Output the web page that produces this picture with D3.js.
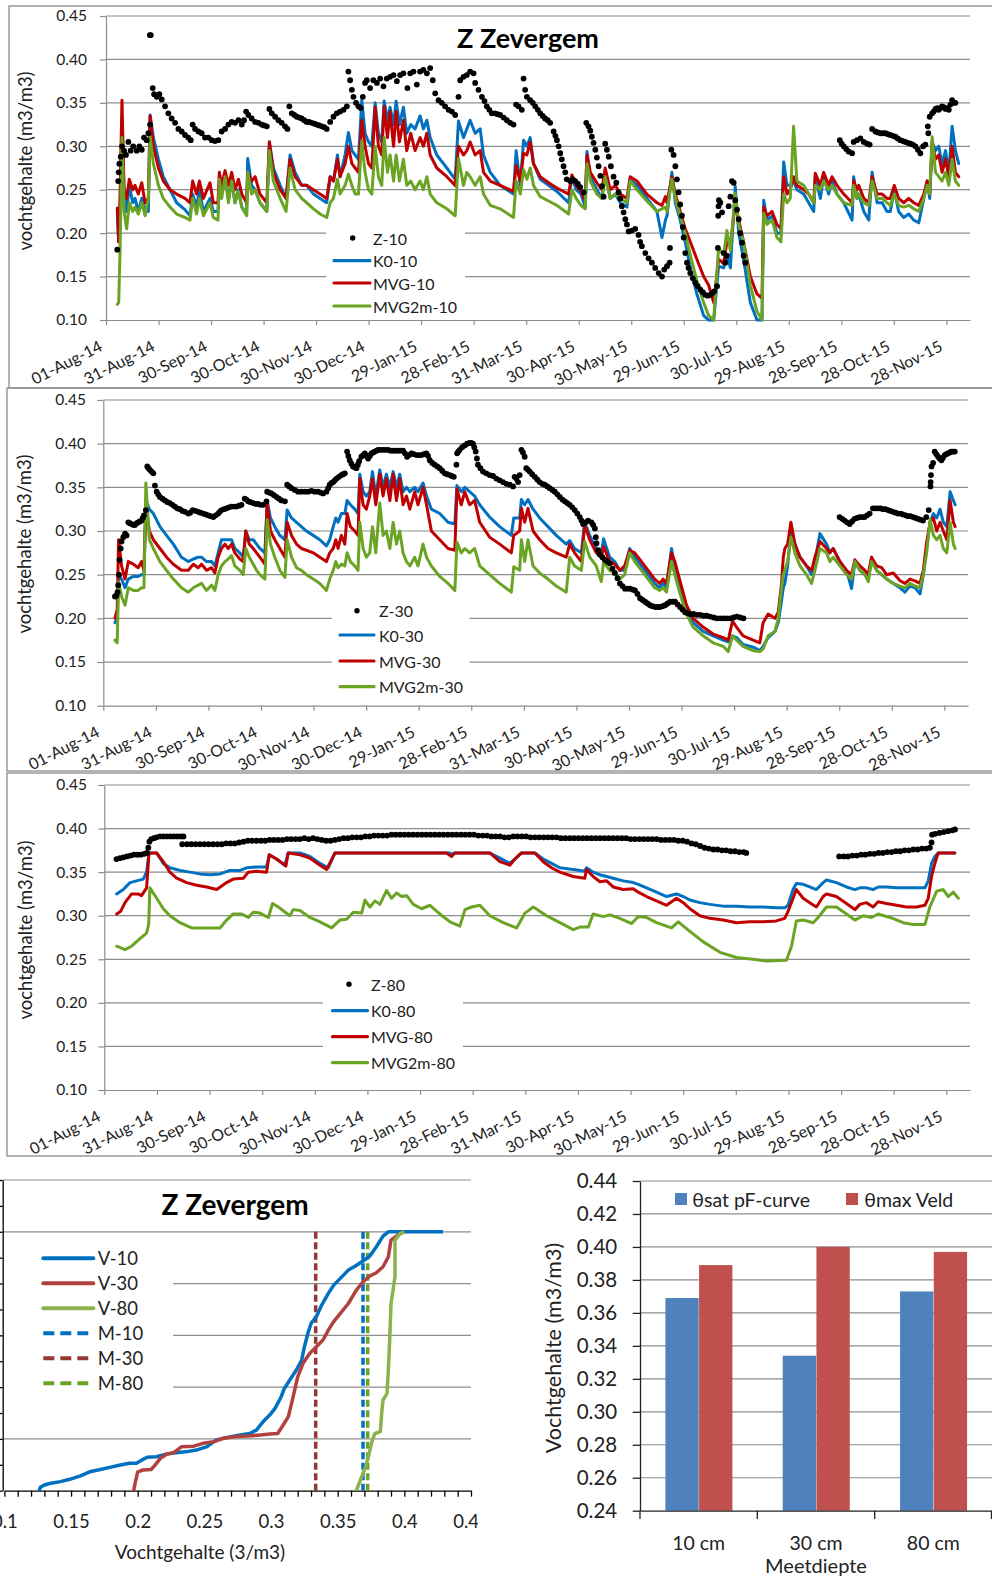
<!DOCTYPE html>
<html><head><meta charset="utf-8">
<script src="https://cdn.jsdelivr.net/npm/d3@7"></script>
<style>body{margin:0;background:#fff}svg{display:block}</style>
</head><body>
<svg id="c" width="992" height="1577"></svg>
<script>
// ================= DATA =================
// time axis: days since 01-Aug-2014; ticks every 30.25 days
const tickStepDays = 30.25, tickCount = 17;
const yTicksTS = [0.10,0.15,0.20,0.25,0.30,0.35,0.40,0.45];
const seriesNames10 = ["Z-10","K0-10","MVG-10","MVG2m-10"];
const seriesNames30 = ["Z-30","K0-30","MVG-30","MVG2m-30"];
const seriesNames80 = ["Z-80","K0-80","MVG-80","MVG2m-80"];

// Panel 10 cm rows: [day, K0-10, MVG-10, MVG2m-10]
const p10Rows = [
[6.5,.225,.229,.118],[7.3,.19,.19,.12],[8.1,.23,.24,.18],[9.2,.335,.353,.31],[10.4,.245,.25,.225],[11.9,.225,.24,.205],[13.4,.255,.262,.235],[15.4,.235,.25,.225],[16.7,.24,.255,.23],[18.6,.225,.245,.222],
[20.6,.24,.258,.235],[22.5,.225,.235,.22],[24.4,.225,.24,.24],[25.4,.336,.335,.311],[27.3,.31,.30,.28],[30.2,.285,.275,.255],[33,.265,.26,.24],[36.9,.25,.25,.23],[40.7,.235,.245,.222],[45.5,.227,.24,.218],
[48.4,.22,.235,.215],[49.9,.245,.26,.24],[52.2,.23,.245,.222],[53.8,.25,.26,.24],[56.1,.225,.24,.22],[59.9,.24,.258,.235],[61.8,.225,.235,.218],[64.5,.225,.235,.215],[65.3,.265,.27,.262],[66.6,.245,.255,.24],
[68.6,.265,.272,.265],[70.5,.24,.255,.235],[72.4,.26,.27,.26],[74.3,.235,.25,.235],[76.3,.25,.262,.248],[78.2,.23,.245,.23],[81,.222,.235,.22],[81.6,.286,.27,.27],[83.9,.255,.26,.245],[85.9,.25,.265,.25],
[88.7,.235,.245,.235],[92.6,.225,.235,.225],[94.1,.305,.305,.295],[96.4,.275,.27,.26],[100.3,.255,.25,.24],[103.7,.24,.24,.225],[106,.29,.285,.275],[108.9,.27,.265,.25],[112.7,.255,.255,.24],[115.6,.255,.255,.235],
[119.5,.245,.25,.228],[123.3,.24,.245,.222],[127.1,.235,.24,.218],[129.1,.265,.265,.235],[131,.26,.26,.24],[133.3,.29,.285,.262],[134.8,.265,.265,.245],[137.7,.29,.28,.255],[139.6,.316,.30,.268],[141.6,.295,.28,.255],
[143.5,.29,.275,.245],[145.4,.285,.27,.245],[147.3,.353,.33,.306],[149.2,.315,.30,.27],[151.2,.305,.28,.25],[153.1,.30,.275,.245],[155,.35,.345,.30],[156.9,.315,.30,.265],[158.8,.305,.29,.255],[160.2,.352,.346,.31],
[162.1,.33,.31,.27],[163.6,.345,.34,.29],[165.6,.325,.30,.26],[167.1,.352,.34,.29],[169,.325,.305,.26],[171.3,.345,.33,.285],[173.2,.315,.295,.255],[175.5,.325,.315,.26],[178,.32,.295,.25],[180.9,.335,.31,.26],
[182.8,.32,.30,.25],[184.8,.33,.315,.265],[186.7,.31,.29,.245],[190.5,.29,.275,.235],[196.3,.275,.265,.228],[201.1,.262,.255,.22],[203,.329,.30,.286],[205.9,.31,.29,.255],[207.8,.32,.295,.27],[209.7,.33,.305,.265],
[212.6,.315,.29,.255],[215.5,.32,.295,.265],[217.4,.29,.27,.245],[221.3,.27,.26,.232],[227,.255,.255,.228],[234.7,.245,.248,.218],[236.2,.295,.278,.26],[238.6,.255,.26,.245],[240.5,.307,.292,.273],[242.4,.30,.29,.262],
[244.3,.31,.305,.275],[246.2,.28,.28,.255],[250.1,.262,.265,.242],[254.9,.255,.258,.237],[259.7,.248,.252,.232],[266.4,.235,.245,.222],[268.3,.265,.267,.25],[270.8,.25,.255,.24],[273.5,.245,.248,.232],[276,.23,.238,.228],
[277,.294,.29,.28],[278.9,.265,.27,.26],[282.7,.25,.258,.245],[285.6,.24,.25,.24],[287.5,.27,.275,.265],[290.4,.24,.25,.24],[293.3,.245,.255,.245],[296.2,.235,.245,.24],[300,.23,.24,.235],[301.9,.262,.265,.26],
[305.8,.255,.26,.25],[311.5,.24,.245,.237],[317.3,.225,.235,.225],[320.2,.195,.232,.228],[322.2,.215,.242,.23],[323.1,.22,.235,.225],[325.9,.27,.265,.262],[327.9,.235,.245,.24],[330.7,.215,.225,.22],[333.6,.19,.205,.20],
[336.5,.16,.19,.175],[340.3,.13,.17,.145],[344.2,.105,.15,.12],[347.1,.10,.14,.105],[350,.10,.12,.10],[352.8,.162,.17,.183],[355.7,.16,.165,.175],[357.6,.175,.19,.203],[359.6,.16,.185,.18],[362.4,.254,.235,.246],
[364.4,.20,.215,.21],[367.2,.17,.19,.19],[371.1,.12,.15,.14],[374.9,.10,.13,.11],[377.8,.10,.125,.10],[378.8,.238,.23,.223],[380.7,.215,.22,.21],[383.6,.22,.225,.215],[386.4,.20,.21,.195],[388.7,.20,.205,.19],
[390.3,.282,.265,.245],[392.2,.255,.245,.235],[394.1,.255,.25,.24],[396,.26,.265,.323],[397.9,.25,.255,.26],[401.8,.245,.25,.255],[404.7,.235,.245,.245],[407.6,.225,.235,.235],[408.5,.265,.269,.255],[411.4,.24,.255,.25],
[413.3,.265,.27,.26],[416.2,.245,.255,.25],[418.1,.26,.265,.255],[421,.245,.255,.245],[424.9,.235,.245,.235],[429.7,.215,.235,.232],[430.6,.265,.26,.255],[432.5,.24,.25,.24],[433.5,.245,.255,.245],[436.4,.225,.24,.235],
[439.3,.215,.235,.232],[441.2,.27,.265,.26],[444.1,.235,.245,.24],[447,.235,.245,.24],[449.8,.225,.24,.235],[451.7,.225,.24,.232],[454,.25,.255,.245],[456.5,.225,.24,.232],[459.4,.218,.235,.23],[462.3,.222,.24,.232],
[465.2,.215,.235,.228],[468.1,.212,.232,.225],[471,.24,.245,.24],[472.9,.26,.26,.255],[474.4,.24,.245,.245],[475.8,.305,.305,.311],[477.7,.295,.285,.27],[479.6,.30,.29,.265],[481.5,.28,.27,.26],[483.5,.295,.285,.27],
[485.4,.27,.265,.255],[487.3,.323,.30,.285],[489.2,.295,.27,.26],[491.1,.28,.265,.255]
];
// Z-10 observations [day, value]
const z10 = [
[6.5,.181],[7,.26],[7.3,.27],[7.7,.28],[8.5,.288],[9.2,.30],[10.4,.295],[11.5,.29],[12.9,.305],[14.2,.295],[15.7,.30],[17.7,.295],[19.2,.30],[20.6,.296],[21.9,.31],[23.4,.307],[24.4,.315],[25.4,.325],[25.2,.428],[25.8,.428],
[26.9,.367],[27.7,.36],[29.2,.357],[30.7,.36],[32.1,.354],[34,.346],[35.9,.338],[37.8,.332],[39.8,.327],[41.7,.32],[43.6,.317],[45.5,.313],[47.4,.31],[48.8,.307],[49.9,.325],[51.3,.32],[53.2,.317],[55.1,.315],[57,.31],[59,.31],
[60.9,.307],[62.8,.306],[64.7,.307],[66.6,.317],[68.6,.32],[70.5,.325],[72.4,.328],[74.3,.327],[76.3,.33],[78.2,.325],[79.5,.33],[80.7,.34],[82,.336],[83.9,.332],[85.9,.328],[87.8,.327],[89.7,.325],[91,.324],[92.6,.323],[94.1,.343],
[95.5,.338],[97.4,.334],[99.3,.33],[101.2,.327],[103.1,.323],[104.5,.32],[105.6,.346],[107,.338],[108.5,.336],[109.9,.334],[111.3,.333],[112.7,.332],[114.2,.33],[115.6,.328],[117,.328],[118.5,.327],[120,.326],[121.4,.325],[122.8,.324],[124.3,.323],
[125.7,.322],[127.1,.32],[129.1,.328],[131,.334],[132.9,.338],[134.8,.34],[136.8,.342],[138.7,.346],[139.6,.386],[140.6,.376],[141.6,.365],[142.5,.357],[144,.35],[145.4,.346],[146.7,.344],[147.9,.357],[149.2,.373],[150.2,.376],[152.1,.367],[154,.376],
[156,.373],[157.9,.378],[159.8,.369],[161.7,.378],[163.6,.38],[165.6,.382],[167.5,.375],[169.4,.382],[171.3,.384],[173.6,.367],[175.2,.384],[177.1,.386],[179,.371],[180.9,.386],[182.8,.388],[184.8,.384],[186.7,.39],[188.2,.376],[189.6,.361],[191.5,.353],
[193.4,.35],[195.3,.346],[197.3,.342],[199.2,.34],[201.1,.336],[203,.357],[204,.376],[205.9,.38],[207.8,.382],[209.7,.386],[211.7,.384],[212.6,.373],[214.5,.365],[216.5,.357],[218,.352],[219.3,.346],[220.8,.342],[222.2,.338],[224,.338],[225.5,.337],
[227,.336],[229,.333],[230.9,.33],[232.8,.327],[234.7,.325],[236.2,.348],[237.6,.346],[239.5,.342],[240.5,.378],[241.4,.365],[242.4,.357],[244.3,.353],[245.8,.35],[247.2,.346],[248.7,.342],[250.1,.338],[251.5,.335],[252.9,.332],[254.4,.33],[255.8,.327],
[257.8,.317],[258.8,.312],[259.7,.307],[260.7,.30],[261.6,.292],[262.5,.285],[263.5,.277],[264.5,.27],[265.4,.262],[267.4,.26],[268.8,.262],[270.2,.26],[271.7,.257],[273.1,.253],[275.1,.247],[276.6,.327],[277.9,.323],[278.9,.318],[279.8,.311],[280.8,.304],
[281.8,.296],[282.7,.287],[283.7,.277],[284.7,.266],[285.6,.254],[286.6,.242],[287.5,.303],[288.5,.296],[289.5,.288],[290.8,.277],[292.3,.265],[293.9,.258],[295.2,.247],[296.2,.24],[297.1,.231],[298.1,.224],[299.1,.216],[300,.21],[301,.202],[302.9,.203],
[304.8,.205],[306.7,.198],[307.6,.19],[308.6,.185],[310.6,.177],[312.5,.171],[314.4,.166],[316.3,.16],[318.3,.154],[320.2,.15],[321.5,.158],[323.1,.162],[324.6,.166],[324.8,.183],[325.6,.296],[326.9,.29],[327.9,.277],[328.8,.262],[329.8,.247],[330.7,.233],
[331.7,.22],[332.2,.207],[332.7,.195],[333.6,.177],[334.6,.166],[335.5,.16],[336.5,.154],[338,.148],[339.4,.143],[340.8,.139],[342.3,.135],[343.7,.132],[345.1,.129],[346.6,.128],[348,.129],[349.2,.131],[350.3,.133],[351.9,.139],[352.4,.183],[352.6,.22],
[352.8,.231],[353,.238],[353.8,.235],[354.8,.224],[355.7,.177],[356.7,.166],[357.6,.174],[358.6,.231],[359.6,.242],[360.5,.26],[361.5,.258],[362.4,.238],[363.4,.227],[364.4,.216],[365.3,.20],[366.3,.189],[367.2,.174],[368.2,.166],
[422.6,.307],[423.7,.303],[424.9,.30],[426.3,.297],[427.7,.294],[429.7,.292],[430.6,.305],[432.5,.307],[434.5,.309],[436.4,.305],[438.3,.303],[439.8,.302],[441.2,.32],[443.1,.317],[444.5,.316],[446,.315],[447.5,.315],[448.9,.315],[450.3,.314],[451.7,.313],
[453.2,.312],[454.6,.311],[456,.309],[457.5,.307],[459,.306],[460.4,.305],[461.8,.304],[463.3,.303],[464.7,.302],[466.2,.30],[467.6,.296],[469,.292],[470.6,.30],[471.9,.302],[473.3,.323],[473.6,.315],[474.4,.334],[475.8,.338],[476.7,.34],[477.7,.343],
[478.7,.344],[479.6,.342],[480.5,.344],[481.5,.346],[482.5,.345],[483.5,.343],[484.5,.344],[485.4,.342],[486.3,.348],[487.3,.353],[488.2,.35],[489.2,.35]
];

// Panel 30 cm rows: [day, K0-30, MVG-30, MVG2m-30]
const p30Rows = [
[6.7,.195,.20,.175],[8,.20,.21,.172],[8.8,.25,.29,.242],[10.5,.245,.26,.225],[12.5,.235,.245,.215],[14.4,.245,.265,.235],[17.3,.248,.262,.232],[20.1,.248,.258,.232],[22,.25,.265,.235],[23.4,.25,.255,.235],
[24.5,.335,.33,.355],[26.5,.325,.30,.29],[28.8,.32,.29,.28],[32.6,.305,.28,.265],[36.4,.295,.27,.255],[40.3,.285,.262,.245],[45,.27,.255,.235],[48.9,.265,.255,.23],[51.8,.268,.262,.235],[54.6,.27,.258,.238],
[56.5,.27,.262,.24],[59.4,.265,.255,.232],[62.3,.265,.258,.238],[64.2,.26,.252,.232],[66.1,.275,.27,.25],[68,.29,.28,.26],[70,.29,.285,.265],[71.9,.29,.28,.268],[73.8,.29,.285,.272],[75.7,.28,.275,.26],
[78.6,.275,.268,.255],[80.5,.27,.265,.25],[82,.30,.30,.28],[84,.29,.285,.27],[86.3,.29,.28,.262],[88.2,.285,.275,.255],[90.1,.28,.27,.25],[93,.275,.262,.245],[94.3,.335,.333,.313],[96.2,.315,.30,.285],
[98.7,.305,.29,.27],[101.6,.295,.28,.255],[104.5,.29,.27,.247],[105.8,.324,.31,.29],[108.3,.315,.295,.27],[111.2,.31,.285,.258],[114,.305,.28,.255],[116.9,.30,.278,.25],[120.8,.295,.275,.245],[124.6,.29,.27,.24],
[128.4,.283,.265,.232],[130.3,.29,.275,.245],[132.3,.305,.28,.255],[133.8,.315,.29,.265],[135.1,.31,.28,.258],[137,.32,.295,.262],[139,.32,.285,.26],[140.3,.335,.32,.275],[142.2,.33,.305,.265],[144.7,.325,.30,.26],
[146.6,.32,.295,.255],[147.6,.365,.36,.31],[149.5,.345,.33,.28],[151.4,.34,.325,.27],[153.3,.345,.34,.275],[154.9,.368,.36,.305],[156.8,.34,.33,.275],[159.1,.37,.365,.332],[161,.35,.34,.295],[162.9,.365,.36,.30],
[164.9,.35,.335,.28],[166.8,.368,.365,.31],[168.7,.35,.335,.285],[170.6,.365,.36,.30],[172.5,.345,.33,.275],[174.5,.35,.34,.265],[176.4,.345,.325,.26],[179.2,.35,.345,.27],[181.1,.345,.33,.26],[184,.355,.35,.285],
[186,.34,.33,.27],[188.8,.325,.30,.26],[193.6,.32,.29,.248],[198.4,.31,.28,.24],[202.3,.308,.278,.232],[203.5,.352,.348,.287],[206,.345,.33,.275],[208,.35,.345,.28],[210.8,.345,.33,.275],[213.7,.34,.335,.28],
[216.6,.33,.31,.26],[222.3,.316,.293,.25],[228.1,.305,.285,.24],[234.8,.295,.275,.23],[236.2,.315,.295,.259],[239.6,.315,.30,.255],[240.6,.336,.326,.29],[242.5,.33,.31,.265],[244.4,.336,.326,.29],[247.3,.325,.30,.26],
[251.1,.315,.29,.252],[255.9,.305,.28,.245],[260.7,.295,.275,.237],[266.4,.285,.27,.23],[268.4,.289,.285,.27],[271.2,.28,.275,.26],[275.1,.275,.265,.255],[277,.31,.307,.288],[279.9,.295,.29,.27],[283.7,.28,.275,.26],
[286.6,.275,.27,.242],[287.9,.291,.282,.265],[291.4,.27,.265,.255],[294.3,.265,.262,.252],[297.2,.255,.255,.245],[300,.255,.26,.25],[302.9,.28,.278,.275],[305.8,.27,.275,.265],[309.7,.26,.265,.255],[313.5,.25,.255,.245],
[317.3,.24,.245,.235],[320.2,.235,.24,.232],[322.2,.24,.245,.235],[324.1,.235,.24,.23],[327,.28,.275,.265],[328.9,.255,.265,.25],[331.6,.235,.245,.23],[335.6,.21,.215,.205],[339.4,.195,.20,.19],[345.2,.185,.19,.18],
[350.9,.18,.182,.172],[356.7,.175,.178,.168],[359.6,.173,.175,.162],[362.1,.18,.197,.18],[364.4,.178,.19,.175],[368.2,.17,.18,.168],[374,.167,.175,.163],[377.8,.163,.172,.162],[379.7,.168,.195,.165],[382.6,.178,.205,.18],
[386.5,.185,.20,.185],[388.4,.195,.207,.20],[390.3,.22,.24,.235],[391.3,.235,.27,.25],[392.2,.24,.28,.255],[393.8,.26,.285,.265],[395.7,.30,.31,.293],[398,.285,.285,.275],[400.9,.27,.27,.26],[404.7,.26,.26,.25],
[407.6,.25,.255,.24],[409.5,.265,.27,.255],[412.4,.297,.288,.28],[416.2,.285,.28,.275],[418.1,.275,.275,.265],[420,.28,.28,.27],[423.9,.265,.265,.26],[427.7,.255,.255,.25],[430.6,.234,.25,.245],[432.5,.265,.267,.265],
[435.4,.255,.26,.255],[438.3,.25,.255,.25],[440.2,.245,.25,.242],[442.1,.27,.27,.265],[445,.255,.26,.255],[447.9,.25,.258,.25],[450.8,.245,.25,.245],[454.6,.24,.252,.24],[458.5,.235,.243,.237],[461.3,.23,.24,.235],
[464.2,.237,.245,.24],[467.1,.235,.243,.237],[470,.228,.24,.235],[471.9,.25,.255,.25],[473.8,.28,.287,.275],[475.8,.31,.31,.313],[477.7,.32,.315,.295],[479.6,.315,.30,.29],[481.5,.325,.31,.295],[483.4,.31,.30,.28],
[485.4,.305,.29,.275],[487.3,.345,.335,.31],[489.2,.335,.31,.285],[490.2,.33,.305,.28]
];
const z30 = [
[6.7,.225],[7.5,.226],[8.2,.23],[8.6,.238],[9,.25],[9.3,.267],[10,.28],[10.5,.288],[11.5,.293],[12.5,.297],[13.4,.295],[14.4,.31],[15.3,.309],[16.3,.308],[17.3,.307],[18.2,.307],[19.2,.309],[20.1,.31],[21,.311],[22,.312],
[22.7,.315],[23.4,.318],[24.5,.324],[25.3,.374],[26,.372],[26.8,.37],[27.8,.368],[28.8,.366],[29.7,.352],[30.7,.345],[31.6,.342],[32.6,.339],[34,.337],[35.5,.335],[37,.333],[38.3,.332],[39.8,.33],[41.2,.328],[42.6,.326],[44.1,.325],
[45.5,.323],[47,.322],[48.9,.32],[50,.321],[51.4,.324],[53,.323],[54.6,.322],[56,.321],[57.5,.32],[59,.319],[60.4,.318],[61.8,.317],[63.3,.316],[64.7,.318],[66.1,.32],[67,.322],[68,.324],[69.5,.325],[70.9,.326],[72.3,.327],
[73.8,.328],[75.3,.328],[76.7,.328],[78.1,.329],[79.5,.33],[81.4,.337],[82.4,.336],[83.4,.334],[84.8,.333],[86.3,.332],[87.7,.331],[89.1,.331],[90.5,.33],[92,.33],[93.9,.334],[94.3,.345],[95.5,.344],[96.8,.343],[98.2,.341],[99.7,.339],
[101.1,.337],[102.5,.335],[104.5,.334],[105.8,.353],[107,.351],[108.3,.349],[110.2,.347],[112.1,.345],[114,.345],[116,.345],[117.9,.345],[119.8,.346],[121.7,.345],[123.6,.345],[125,.344],[126.5,.343],[128.4,.345],[129.4,.349],[130.3,.353],[131.3,.355],
[132.3,.356],[133.2,.358],[134.2,.36],[135.6,.362],[137,.364],[138,.365],[139,.366],[140.3,.391],[141,.386],[141.8,.381],[142.8,.377],[143.7,.374],[144.7,.373],[145.7,.372],[146.5,.376],[147.2,.38],[148.5,.385],[149.5,.387],[150.5,.389],[151.5,.386],
[152.4,.383],[153.4,.386],[154.3,.389],[155.3,.39],[156.2,.391],[157.2,.392],[158.2,.393],[159.6,.393],[161,.393],[162.5,.393],[163.9,.393],[165.3,.392],[166.8,.392],[168.2,.392],[169.6,.392],[171,.392],[172.5,.392],[173.6,.389],[174.8,.385],[176,.387],
[177.3,.389],[178.7,.388],[180.2,.387],[181.7,.387],[183.1,.387],[184.5,.388],[185.9,.389],[186.9,.386],[187.9,.381],[189.3,.378],[190.7,.376],[192.2,.374],[193.6,.372],[195,.369],[196.5,.366],[197.9,.365],[199.4,.364],[200.5,.363],[201.7,.362],[203.2,.376],
[203.6,.389],[204.3,.391],[205.1,.393],[206.5,.396],[208,.398],[209.4,.40],[210.8,.401],[211.7,.401],[212.7,.40],[213.5,.396],[214.3,.391],[215,.383],[215.6,.376],[217,.372],[218.5,.368],[220.4,.366],[222.3,.364],[224.3,.363],[226.2,.36],[228.1,.358],
[230,.356],[231.9,.354],[233.9,.353],[235.8,.351],[236.7,.362],[237.7,.36],[238.7,.356],[239.6,.364],[240.6,.393],[241.5,.39],[242.5,.385],[243.4,.372],[244.4,.37],[245.4,.368],[246.8,.365],[248.3,.362],[249.7,.359],[251.1,.356],[252.6,.354],[254,.353],
[255.5,.351],[256.9,.349],[258.4,.347],[259.8,.345],[261.3,.342],[262.7,.339],[264.2,.336],[265.6,.334],[267,.332],[268.4,.33],[269.9,.327],[271.3,.324],[272.8,.32],[274.2,.316],[275.2,.312],[276.1,.308],[277.5,.31],[279,.312],[280.9,.31],[281.9,.307],
[282.9,.303],[283.4,.293],[283.8,.286],[284.8,.278],[285.7,.273],[287.2,.27],[288.6,.267],[290,.265],[291.5,.263],[293,.257],[294.4,.252],[295.9,.246],[297.3,.24],[298.8,.237],[300.2,.234],[301.7,.234],[303.1,.234],[304.6,.233],[306,.232],[307.4,.228],
[308.9,.223],[310.4,.221],[311.8,.219],[313.2,.217],[314.6,.215],[316,.214],[317.5,.213],[319,.213],[320.4,.213],[321.8,.214],[323.3,.215],[324.7,.217],[326.2,.219],[327.6,.219],[329,.219],[330.5,.216],[331.9,.213],[333.3,.21],[334.8,.207],[336.2,.206],
[337.7,.205],[339.6,.205],[341.5,.204],[343.5,.204],[345.4,.203],[347.3,.203],[349.2,.202],[351.2,.201],[353.1,.20],[355,.20],[356.9,.20],[358.8,.20],[360.7,.20],[362.7,.201],[364.6,.202],[366.5,.201],[368.4,.20],
[423.7,.316],[425.2,.314],[426.6,.312],[428,.31],[429.5,.308],[430.9,.311],[432.3,.314],[433.8,.315],[435.2,.316],[436.7,.316],[438.1,.316],[439.5,.318],[441,.32],[442.9,.326],[444.4,.326],[445.8,.326],[447.3,.326],[448.7,.325],[450.1,.325],[451.6,.324],
[453,.323],[454.4,.322],[455.9,.321],[457.3,.32],[458.8,.32],[460.2,.319],[461.7,.318],[463.1,.317],[464.5,.317],[466,.316],[467.4,.315],[468.8,.314],[470.3,.313],[471.7,.312],[473.6,.316],[475,.324],[476,.351],[476.1,.356],[476.3,.364],[476.6,.374],
[477.5,.378],[478.4,.391],[479.4,.388],[480.4,.385],[481.3,.383],[482.3,.381],[483.2,.384],[484.2,.387],[485.1,.388],[486.1,.389],[487.1,.39],[488.1,.391],[489,.391],[490,.391]
];

// Panel 80 cm: [day, value]
const k0_80 = [[7.1,.325],[10.9,.33],[14.8,.338],[18.6,.34],[22.4,.342],[24.3,.35],[25.7,.372],[30.1,.372],[33.9,.36],[37.7,.355],[43.5,.352],[49.2,.35],[55,.348],[60.7,.347],[66.5,.348],[72.2,.352],[78,.352],[81.8,.355],[87.5,.356],[93.3,.356],[94.8,.37],[99,.365],[103.8,.358],[105.7,.372],[112.5,.372],[118.2,.368],[124,.36],[128.7,.355],[132.6,.372],[198.7,.372],[199.6,.37],[201,.372],[221.6,.372],[227.4,.366],[233.1,.36],[236,.365],[239.8,.372],[247.5,.372],[252.3,.365],[257.1,.36],[261.9,.355],[269.5,.353],[276.2,.351],[277.2,.355],[281,.35],[284.9,.347],[288.7,.345],[292.5,.343],[298.3,.34],[304,.338],[306.9,.336],[311.7,.332],[317.4,.327],[323.2,.322],[328.9,.325],[332.8,.322],[336.6,.318],[342.3,.315],[348.1,.313],[355.7,.311],[363.4,.311],[371,.31],[378.7,.31],[386.3,.309],[391.1,.309],[393,.312],[395.9,.33],[397.8,.337],[401.7,.336],[405.5,.333],[409.3,.33],[413.2,.338],[415.1,.341],[420.8,.338],[426.6,.333],[431.4,.33],[434.3,.332],[438.1,.332],[441.9,.33],[444.8,.333],[449.6,.333],[455.4,.332],[461.1,.332],[466.9,.332],[471.7,.332],[473.6,.34],[475.5,.36],[477.4,.368],[479.3,.372],[488.9,.372]];
const mvg_80 = [[7.1,.302],[9.4,.305],[11.9,.315],[15.7,.325],[19.5,.325],[21.4,.323],[24.3,.332],[25.7,.372],[30.1,.372],[33.9,.362],[37.7,.35],[41.6,.343],[47.3,.338],[53.1,.335],[58.8,.333],[64.6,.33],[70.3,.338],[74.1,.342],[79.9,.343],[82.8,.35],[87.5,.351],[93.3,.35],[94.8,.37],[99,.365],[104.4,.357],[105.7,.372],[112.5,.37],[118.2,.366],[124,.358],[127.8,.353],[132.6,.372],[196.7,.372],[199.6,.368],[201.5,.372],[221.6,.372],[227.4,.362],[233.1,.358],[236,.365],[239.8,.372],[247.5,.372],[252.3,.362],[257.1,.355],[261.9,.35],[269.5,.345],[276.2,.343],[277.2,.353],[281,.345],[284.9,.339],[288.7,.34],[292.5,.333],[298.3,.33],[304,.331],[306.9,.327],[311.7,.322],[317.4,.317],[323.2,.312],[328.9,.32],[332.8,.315],[336.6,.308],[342.3,.30],[348.1,.297],[355.7,.295],[363.4,.292],[371,.293],[378.7,.293],[386.3,.294],[391.1,.297],[393,.305],[395.9,.32],[397.8,.33],[401.7,.32],[405.5,.315],[409.3,.31],[413.2,.322],[415.1,.325],[420.8,.322],[426.6,.314],[431.4,.307],[434.3,.313],[438.1,.315],[441.9,.31],[444.8,.316],[449.6,.314],[455.4,.312],[461.1,.31],[466.9,.31],[471.7,.312],[473.6,.32],[475.5,.345],[477.4,.36],[479.3,.372],[488.9,.372]];
const mvg2m_80 = [[7.1,.265],[11.9,.261],[15.7,.265],[19.5,.272],[24.3,.28],[25.5,.29],[26.2,.332],[30.1,.32],[33.9,.308],[37.7,.30],[43.5,.292],[50.2,.286],[56.9,.286],[66.5,.286],[70.3,.295],[74.1,.302],[78.9,.302],[82.8,.298],[85.6,.304],[89.5,.303],[94.3,.298],[96.7,.314],[100,.31],[106.7,.30],[108.6,.307],[112.5,.306],[118.2,.298],[124,.293],[130.7,.286],[135.4,.295],[139.3,.296],[143.1,.304],[147.9,.303],[149.8,.318],[152.7,.31],[155.6,.317],[158.4,.313],[162.3,.329],[165.1,.32],[168,.326],[170.9,.322],[173.8,.323],[177.6,.313],[182.4,.308],[187.2,.312],[192.9,.302],[198.7,.293],[204.4,.288],[207.3,.307],[211.1,.31],[215.9,.312],[221.6,.30],[229.3,.292],[237,.286],[241.8,.303],[246.6,.31],[254.2,.30],[261.9,.292],[269.5,.284],[273.4,.287],[278.2,.287],[281,.302],[286.8,.299],[290.6,.301],[296.4,.297],[303.1,.291],[306.9,.299],[311.7,.298],[317.4,.292],[326,.286],[329.9,.293],[336.6,.282],[344.3,.27],[353.9,.258],[363.4,.252],[373,.25],[380.7,.248],[392.1,.249],[395,.265],[397.8,.294],[401.7,.295],[407.5,.292],[410.3,.298],[415.1,.31],[420.8,.31],[426.6,.302],[431.4,.295],[436.2,.30],[441,.298],[444.8,.302],[451.6,.298],[459.2,.292],[465,.29],[471.7,.29],[474.5,.31],[478.4,.328],[482.2,.33],[485.1,.322],[488,.327],[490.9,.32]];
const z80 = [
[7,.365],[9,.366],[11,.367],[13,.368],[15,.369],[17,.37],[19,.37],[21,.37],[23,.371],[24.5,.372],[25.3,.378],[25.9,.385],[27,.388],[28.5,.389],[30,.39],[32,.391],[34,.391],[36,.391],[38,.391],[40,.391],[42,.391],[44,.391],[45.5,.391],
[44.8,.382],[47.5,.382],[50,.382],[52.5,.382],[55,.382],[57.5,.382],[60,.382],[62.5,.382],[65,.382],[67.5,.382],[70,.383],[72.5,.383],[75,.383],[77.5,.384],[80,.385],[82.5,.386],[85,.386],[87.5,.386],[90,.386],[92.5,.386],[95,.387],[97.5,.387],
[100,.387],[102.5,.387],[105,.388],[107.5,.388],[110,.388],[112.5,.388],[115,.389],[117.5,.388],[120,.389],[122.5,.388],[125,.387],[127.5,.386],[130,.386],[132.5,.387],[135,.388],[137.5,.389],[140,.389],[142.5,.39],[145,.39],[147.5,.39],
[150,.391],[152.5,.391],[155,.392],[157.5,.392],[160,.392],[162.5,.392],[165,.393],[167.5,.393],[170,.393],[172.5,.393],[175,.393],[177.5,.393],[180,.393],[182.5,.393],[185,.393],[187.5,.393],[190,.393],[192.5,.393],[195,.393],[197.5,.393],
[200,.393],[202.5,.393],[205,.393],[207.5,.393],[210,.393],[212.5,.393],[215,.392],[217.5,.392],[220,.392],[222.5,.391],[225,.391],[227.5,.391],[230,.39],[232.5,.39],[235,.391],[237.5,.391],[240,.391],[242.5,.391],[245,.39],[247.5,.39],
[250,.39],[252.5,.39],[255,.39],[257.5,.39],[260,.39],[262.5,.389],[265,.389],[267.5,.389],[270,.389],[272.5,.389],[275,.389],[277.5,.389],[280,.389],[282.5,.389],[285,.389],[287.5,.389],[290,.389],[292.5,.389],[295,.389],[297.5,.389],
[300,.389],[302.5,.388],[305,.388],[307.5,.388],[310,.388],[312.5,.388],[315,.388],[317.5,.388],[320,.387],[322.5,.387],[325,.387],[327.5,.387],[330,.386],[332.5,.386],[335,.385],[337.5,.383],[340,.382],[342.5,.38],[345,.378],[347.5,.377],
[350,.376],[352.5,.376],[355,.375],[357.5,.375],[360,.374],[362.5,.374],[365,.373],[367.5,.373],[369,.372],
[422.4,.368],[425,.368],[427.5,.368],[430,.369],[432.5,.369],[435,.37],[437.5,.37],[440,.371],[442.5,.371],[445,.372],[447.5,.372],[450,.373],[452.5,.373],[455,.374],[457.5,.374],[460,.375],[462.5,.375],[465,.376],[467.5,.376],[470,.377],
[472.5,.377],[474.5,.378],[475.5,.384],[475.8,.393],[477.5,.394],[480,.395],[482.5,.396],[485,.397],[487.5,.398],[489,.399]
];

// Cumulative curves: [vochtgehalte, cumulative fraction]
const cumNames = ["V-10","V-30","V-80"];
const v10 = [[.126,0],[.127,.013],[.13,.022],[.134,.028],[.142,.035],[.149,.044],[.157,.057],[.164,.073],[.172,.082],[.179,.09],[.187,.099],[.194,.106],[.199,.106],[.203,.118],[.207,.129],[.214,.131],[.222,.142],[.229,.147],[.237,.151],[.244,.157],[.252,.17],[.259,.196],[.267,.206],[.277,.215],[.284,.221],[.289,.234],[.294,.266],[.299,.292],[.303,.318],[.307,.356],[.31,.395],[.314,.427],[.319,.466],[.323,.505],[.325,.556],[.328,.614],[.33,.646],[.334,.672],[.338,.717],[.343,.762],[.347,.794],[.352,.82],[.358,.852],[.363,.867],[.369,.887],[.374,.906],[.379,.942],[.384,.983],[.388,1],[.429,1]];
const v30 = [[.197,0],[.198,.028],[.2,.073],[.204,.08],[.21,.082],[.213,.099],[.217,.125],[.222,.142],[.227,.147],[.233,.17],[.242,.172],[.249,.183],[.257,.189],[.264,.202],[.272,.208],[.282,.211],[.292,.215],[.299,.219],[.305,.221],[.309,.253],[.313,.286],[.316,.35],[.32,.44],[.324,.492],[.329,.53],[.334,.556],[.339,.582],[.343,.62],[.347,.653],[.352,.685],[.358,.723],[.364,.775],[.369,.807],[.374,.829],[.379,.842],[.384,.865],[.388,.903],[.39,.968],[.395,.987],[.40,1]];
const v80 = [[.364,0],[.367,.041],[.371,.093],[.373,.131],[.376,.196],[.378,.221],[.382,.228],[.383,.299],[.384,.35],[.387,.376],[.388,.466],[.389,.582],[.39,.723],[.393,.826],[.393,.968],[.397,.994],[.40,1]];
const mNames = ["M-10","M-30","M-80"];
const mValues = [0.369, 0.3335, 0.3725];

// Bar chart
const depths = ["10 cm","30 cm","80 cm"];
const thetaSat = [0.369, 0.334, 0.373];
const thetaMax = [0.389, 0.400, 0.397];
const barSeriesNames = ["\u03b8sat pF-curve","\u03b8max Veld"];

// ================= DRAW =================
const F = 'Lato, "Open Sans", "DejaVu Sans", sans-serif';
const GRID = '#8c8c8c';
const C_BLUE = '#0070C0', C_RED = '#C00000', C_GREEN = '#6BA424';
const svg = d3.select('#c').attr('font-family', F);
svg.append('rect').attr('width',992).attr('height',1577).attr('fill','#fff');

const fmtDate = d3.timeFormat('%d-%b-%y');
const tickDays = d3.range(tickCount).map(k => k*tickStepDays);

function drawPanel(cfg, lines, zData, names) {
  const g = svg.append('g');
  g.append('rect').attr('x',cfg.frame[0]).attr('y',cfg.frame[1]).attr('width',1000-cfg.frame[0]).attr('height',cfg.frame[2]-cfg.frame[1])
    .attr('fill','none').attr('stroke',GRID).attr('stroke-width',1.3);
  const x = d3.scaleLinear().domain([0, 497.6]).range([cfg.x0, cfg.x1]);
  const y = d3.scaleLinear().domain([0.10, 0.45]).range([cfg.yBot, cfg.yTop]);
  g.selectAll('line.grid').data(yTicksTS.slice(1)).join('line')
    .attr('x1',cfg.x0).attr('x2',cfg.x1).attr('y1',d=>y(d)).attr('y2',d=>y(d))
    .attr('stroke',GRID).attr('stroke-width',1.2);
  // y axis
  g.append('g').attr('transform',`translate(${cfg.x0},0)`)
    .call(d3.axisLeft(y).tickValues(yTicksTS).tickSize(6).tickSizeOuter(0).tickPadding(cfg.pad).tickFormat(d3.format('.2f')))
    .call(a => { a.select('.domain').attr('stroke',GRID).attr('stroke-width',1.2);
      a.selectAll('line').attr('stroke',GRID).attr('stroke-width',1.2);
      a.selectAll('text').attr('font-size',15.5).attr('font-family',F).attr('fill','#222'); });
  // x axis
  g.append('g').attr('transform',`translate(0,${cfg.yBot})`)
    .call(d3.axisBottom(x).tickValues(tickDays).tickSize(5).tickSizeOuter(0)
      .tickFormat(k => fmtDate(new Date(2014,7,1+Math.floor(k+1e-6)))))
    .call(a => { a.select('.domain').attr('stroke',GRID).attr('stroke-width',1.2);
      a.selectAll('line').attr('stroke',GRID).attr('stroke-width',1.2);
      a.selectAll('text').attr('font-size',16).attr('font-family',F).attr('fill','#222')
        .attr('y',0).attr('dy',0).attr('text-anchor','end').attr('transform','translate(-3,30) rotate(-27)'); });
  // y label
  g.append('text').attr('transform',`translate(${cfg.ylx},${cfg.yly}) rotate(-90)`)
    .attr('text-anchor','middle').attr('dominant-baseline','central').attr('font-size',18.5).attr('fill','#222')
    .text('vochtgehalte (m3/m3)');
  // lines
  const line = d3.line().x(d=>x(d[0])).y(d=>y(d[1]));
  const cols = [C_BLUE, C_RED, C_GREEN];
  lines.forEach((s,i) => {
    g.append('path').datum(s).attr('d',line).attr('fill','none').attr('stroke',cols[i])
      .attr('stroke-width',3).attr('stroke-linejoin','round').attr('stroke-linecap','round');
  });
  g.append('g').selectAll('circle').data(zData).join('circle')
    .attr('cx',d=>x(d[0])).attr('cy',d=>y(d[1])).attr('r',2.9).attr('fill','#000');
  // legend
  const L = cfg.legend;
  g.append('rect').attr('x',L.box[0]).attr('y',L.box[1]).attr('width',L.box[2]).attr('height',L.box[3]).attr('fill','#fff');
  names.forEach((n,i) => {
    const yy = L.rows[i];
    if (i === 0) g.append('circle').attr('cx',L.dot).attr('cy',yy).attr('r',2.7).attr('fill','#000');
    else g.append('line').attr('x1',L.lx[0]).attr('x2',L.lx[1]).attr('y1',yy).attr('y2',yy)
      .attr('stroke',cols[i-1]).attr('stroke-width',3.2).attr('stroke-linecap','round');
    g.append('text').attr('x',L.tx).attr('y',yy).attr('dominant-baseline','central')
      .attr('font-size',16).attr('fill','#222').text(n);
  });
  if (cfg.title) g.append('text').attr('x',cfg.title[0]).attr('y',cfg.title[1]).attr('text-anchor','middle')
    .attr('font-size',27).attr('font-weight','bold').attr('fill','#000').text('Z Zevergem');
}

const col = (rows,i) => rows.map(r => [r[0], r[i]]);
drawPanel({frame:[9,6,388], x0:106, x1:970, yTop:16, yBot:320, pad:13, ylx:25, yly:161, title:[528,48],
  legend:{box:[326,228,139,88], rows:[238,260.7,283,306], lx:[334,370], tx:373, dot:352.7}},
  [col(p10Rows,1), col(p10Rows,2), col(p10Rows,3)], z10, seriesNames10);
drawPanel({frame:[7,388,771], x0:103.3, x1:968, yTop:400, yBot:705.7, pad:11.3, ylx:23.5, yly:544,
  legend:{box:[331.7,597,138,100], rows:[610.7,635,661,686.7], lx:[340,374], tx:379, dot:357}},
  [col(p30Rows,1), col(p30Rows,2), col(p30Rows,3)], z30, seriesNames30);
drawPanel({frame:[7,773,1156], x0:104.3, x1:970, yTop:785, yBot:1090, pad:11.3, ylx:25, yly:930,
  legend:{box:[323,971,140,102], rows:[984.3,1010.7,1036.7,1062.7], lx:[332.5,367.5], tx:371, dot:349}},
  [k0_80, mvg_80, mvg2m_80], z80, seriesNames80);

// ---------- cumulative chart (bottom-left) ----------
(function(){
  const g = svg.append('g');
  svg.append('defs').append('clipPath').attr('id','clipL').append('rect').attr('x',0).attr('y',1157).attr('width',478).attr('height',420);
  g.attr('clip-path','url(#clipL)');
  const x = d3.scaleLinear().domain([0.10,0.45]).range([4.4,471]);
  const y = d3.scaleLinear().domain([0,1.2]).range([1490.7,1180]);
  g.selectAll('line.grid').data([0.2,0.4,0.6,0.8,1.0,1.2]).join('line')
    .attr('x1',3).attr('x2',471).attr('y1',d=>y(d)).attr('y2',d=>y(d)).attr('stroke',GRID).attr('stroke-width',1.2);
  // legend background
  g.append('rect').attr('x',0).attr('y',1240).attr('width',173).attr('height',155).attr('fill','#fff');
  // axes
  g.append('g').attr('transform','translate(0,1490.7)')
    .call(d3.axisBottom(x).tickValues(d3.range(10,46).map(v=>v/100)).tickSize(6).tickSizeOuter(0)
      .tickFormat(v => (Math.round(v*100)%5===0) ? String(+v.toFixed(2)) : ''))
    .call(a => { a.select('.domain').attr('stroke','#000').attr('stroke-width',1.3);
      a.selectAll('line').attr('stroke','#000').attr('stroke-width',1.3);
      a.selectAll('text').attr('font-size',18.5).attr('font-family',F).attr('fill','#222').attr('y',37).attr('dy',0); });
  g.append('g').attr('transform','translate(2.7,0)')
    .call(d3.axisLeft(y).tickValues(d3.range(0,13).map(v=>v/10)).tickSize(6).tickSizeOuter(0).tickFormat(''))
    .call(a => { a.select('.domain').attr('stroke','#000').attr('stroke-width',1.3);
      a.selectAll('line').attr('stroke','#000').attr('stroke-width',1.3); });
  g.append('text').attr('x',200).attr('y',1559).attr('text-anchor','middle').attr('font-size',19).attr('fill','#222').text('Vochtgehalte (3/m3)');
  // dashed lines
  const mCols = [C_BLUE,'#953735',C_GREEN];
  mValues.forEach((v,i) => g.append('line').attr('x1',x(v)).attr('x2',x(v)).attr('y1',y(0)).attr('y2',y(1))
    .attr('stroke',mCols[i]).attr('stroke-width',3.5).attr('stroke-dasharray','7,3.5'));
  const vCols = [C_BLUE,'#B0413E','#8CB24E'];
  const line = d3.line().x(d=>x(d[0])).y(d=>y(d[1]));
  [v10,v30,v80].forEach((s,i) => g.append('path').datum(s).attr('d',line).attr('fill','none')
    .attr('stroke',vCols[i]).attr('stroke-width',3.5).attr('stroke-linejoin','round'));
  // legend
  const rows = [1258.3,1283.3,1308.3,1333.3,1358.3,1383.3];
  cumNames.concat(mNames).forEach((n,i) => {
    const dashed = i>=3;
    g.append('line').attr('x1',43.3).attr('x2',dashed?88.3:93.3).attr('y1',rows[i]).attr('y2',rows[i])
      .attr('stroke', dashed? mCols[i-3] : vCols[i]).attr('stroke-width',4)
      .attr('stroke-dasharray', dashed ? '11,6' : null).attr('stroke-linecap', dashed? 'butt':'round');
    g.append('text').attr('x',97.7).attr('y',rows[i]).attr('dominant-baseline','central').attr('font-size',18.5).attr('fill','#222').text(n);
  });
  g.append('text').attr('x',235).attr('y',1215).attr('text-anchor','middle').attr('font-size',28).attr('font-weight','bold').attr('fill','#000').text('Z Zevergem');
})();

// ---------- bar chart (bottom-right) ----------
(function(){
  const g = svg.append('g');
  const y = d3.scaleLinear().domain([0.24,0.44]).range([1510.7,1181]);
  const x = d3.scaleBand().domain(depths).range([640,992]).padding(0);
  const yt = d3.range(0,11).map(i => +(0.24+i*0.02).toFixed(2));
  g.selectAll('line.grid').data(yt.slice(1)).join('line')
    .attr('x1',640).attr('x2',992).attr('y1',d=>y(d)).attr('y2',d=>y(d)).attr('stroke',GRID).attr('stroke-width',1.2);
  const bw = x.bandwidth()*0.2838, off = x.bandwidth()*0.2165;
  const cols = ['#4F81BD','#C0504D'];
  [thetaSat, thetaMax].forEach((vals,si) => {
    g.append('g').selectAll('rect').data(vals).join('rect')
      .attr('x',(d,i)=>x(depths[i])+off+si*(bw+0.4)).attr('width',bw)
      .attr('y',d=>y(d)).attr('height',d=>y(0.24)-y(d)).attr('fill',cols[si]);
  });
  g.append('g').attr('transform','translate(640,0)')
    .call(d3.axisLeft(y).tickValues(yt).tickSize(7.3).tickSizeOuter(0).tickPadding(15.5).tickFormat(d3.format('.2f')))
    .call(a => { a.select('.domain').attr('stroke','#222').attr('stroke-width',1.3);
      a.selectAll('line').attr('stroke','#222').attr('stroke-width',1.3);
      a.selectAll('text').attr('font-size',20.5).attr('font-family',F).attr('fill','#222'); });
  g.append('g').attr('transform','translate(0,1510.7)')
    .call(d3.axisBottom(x).tickSize(0).tickSizeOuter(0).tickPadding(0))
    .call(a => { a.select('.domain').attr('stroke','#222').attr('stroke-width',1.3);
      a.selectAll('text').attr('font-size',19.5).attr('font-family',F).attr('fill','#222').attr('y',39).attr('dy',0); });
  g.selectAll('line.xt').data([640, 640+x.bandwidth(), 640+2*x.bandwidth(), 991.5]).join('line')
    .attr('x1',d=>d).attr('x2',d=>d).attr('y1',1510.7).attr('y2',1519).attr('stroke','#222').attr('stroke-width',1.3);
  g.append('text').attr('x',816).attr('y',1573).attr('text-anchor','middle').attr('font-size',20).attr('fill','#222').text('Meetdiepte');
  g.append('text').attr('transform','translate(553,1348) rotate(-90)').attr('text-anchor','middle').attr('dominant-baseline','central')
    .attr('font-size',21.5).attr('fill','#222').text('Vochtgehalte (m3/m3)');
  const lx = [675, 846], tx = [692.3, 864.3];
  barSeriesNames.forEach((n,i) => {
    g.append('rect').attr('x',lx[i]).attr('y',1193).attr('width',12).attr('height',12).attr('fill',cols[i]);
    g.append('text').attr('x',tx[i]).attr('y',1199).attr('dominant-baseline','central').attr('font-size',19.5).attr('fill','#222').text(n);
  });
})();
</script>
</body></html>
